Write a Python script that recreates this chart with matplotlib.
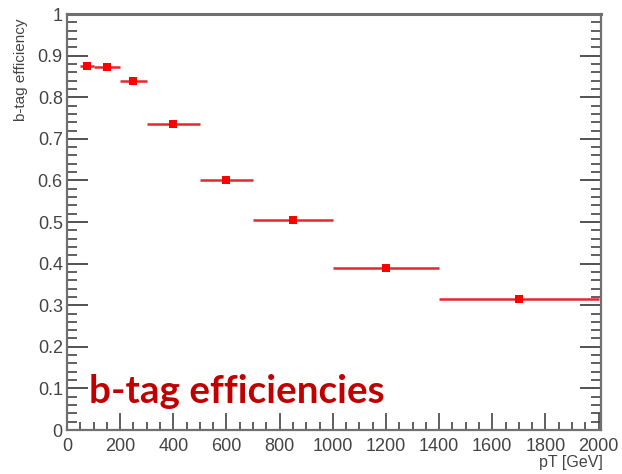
import matplotlib
matplotlib.use("Agg")
import matplotlib.pyplot as plt
from matplotlib.ticker import MultipleLocator
import numpy as np

# pT bins [GeV] and measured b-tag efficiency per bin
bin_lo = [50, 100, 200, 300, 500, 700, 1000, 1400]
bin_hi = [100, 200, 300, 500, 700, 1000, 1400, 2000]
pt_center = [75, 150, 250, 400, 600, 850, 1200, 1700]
efficiency = [0.876, 0.873, 0.840, 0.735, 0.601, 0.504, 0.389, 0.314]

x = np.array(pt_center, dtype=float)
xerr = np.array([x - np.array(bin_lo), np.array(bin_hi) - x])

fig = plt.figure(figsize=(6.22, 4.74), dpi=100)
ax = fig.add_axes([0.1077, 0.0928, 0.859, 0.8776])

ax.errorbar(x, efficiency, xerr=xerr, fmt="s", color="#ff0000",
            ecolor="#e8262e", elinewidth=1.8, markersize=5.5,
            markeredgewidth=0, capsize=0)

ax.set_xlim(0, 2010)
ax.set_ylim(0, 1)

axis_grey = "#707070"
for side in ["left", "bottom", "right", "top"]:
    ax.spines[side].set_color(axis_grey)
    ax.spines[side].set_linewidth(1.6)
ax.spines["top"].set_linewidth(2.2)

ax.xaxis.set_major_locator(MultipleLocator(200))
ax.xaxis.set_minor_locator(MultipleLocator(50))
ax.yaxis.set_major_locator(MultipleLocator(0.1))
ax.yaxis.set_minor_locator(MultipleLocator(0.02))

ax.tick_params(axis="x", which="both", direction="in", top=False,
               colors="#444444", labelsize=13, pad=6)
ax.tick_params(axis="x", which="major", length=12, width=1.2)
ax.tick_params(axis="x", which="minor", length=6, width=1.2)
ax.tick_params(axis="y", which="both", direction="in", right=True,
               colors="#444444", labelsize=13, pad=3)
ax.tick_params(axis="y", which="major", length=15, width=1.3)
ax.tick_params(axis="y", which="minor", length=7, width=1.2)

ax.set_xticklabels([f"{int(v)}" for v in ax.get_xticks()])
ax.set_yticklabels([("0" if abs(v) < 1e-9 else ("1" if abs(v - 1) < 1e-9 else f"{v:.1f}"))
                    for v in ax.get_yticks()])
for lab in ax.get_xticklabels() + ax.get_yticklabels():
    lab.set_family("Liberation Sans")
    lab.set_color("#444444")

fig.text(0.0225, 0.962, "b-tag efficiency", rotation=90, ha="left", va="top",
         fontsize=11, family="Liberation Sans", color="#444444")
fig.text(0.969, 0.008, "pT [GeV]", ha="right", va="bottom",
         fontsize=11.5, family="Liberation Sans", color="#444444")

fig.text(0.143, 0.1498, "b-tag efficiencies", ha="left", va="baseline",
         fontsize=27.8, fontweight="bold", family="Lato", color="#c00000")

fig.savefig("out.png", dpi=100)
